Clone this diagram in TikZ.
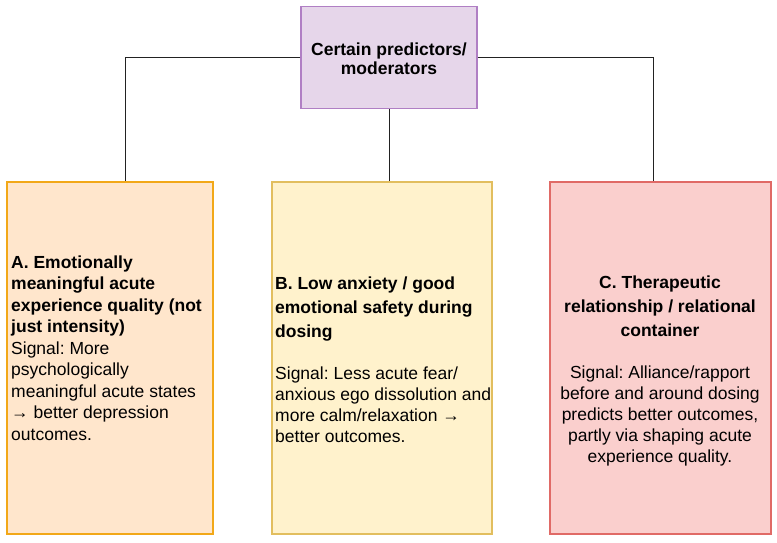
\documentclass[tikz,border=0pt]{standalone}
\usepackage{fontspec}
\setmainfont{Liberation Sans}
\usetikzlibrary{positioning}
\definecolor{topFill}{HTML}{E6D6EA}
\definecolor{topDraw}{HTML}{B07FC4}
\definecolor{aFill}{HTML}{FFE6CC}
\definecolor{aDraw}{HTML}{F2A818}
\definecolor{bFill}{HTML}{FFF2CC}
\definecolor{bDraw}{HTML}{E2BE5E}
\definecolor{cFill}{HTML}{FACFCD}
\definecolor{cDraw}{HTML}{E06A66}
\definecolor{linkGray}{HTML}{222222}
\tikzset{
  predBox/.style={
    draw,
    line width=1.4pt,
    inner sep=0pt,
    minimum width=206pt,
    minimum height=352pt
  },
  predText/.style={
    font=\frenchspacing\fontsize{17.5}{21}\selectfont,
    inner sep=0pt
  },
  linkLine/.style={draw=linkGray, line width=1pt}
}

\begin{document}
\begin{tikzpicture}[x=1pt,y=-1pt]
  \useasboundingbox (0,0) rectangle (777,542);

  % top box
  \node[draw=topDraw, fill=topFill, line width=1.4pt, minimum width=176pt,
        minimum height=102pt, inner sep=0pt] (top) at (389,57.5) {};
  \node[font=\bfseries\fontsize{17.5}{18.5}\selectfont, align=center, inner sep=0pt,
        anchor=north] (topText) at (389,43) {Certain predictors/\\moderators};

  % three boxes
  \node[predBox, draw=aDraw, fill=aFill] (boxA) at (110,358) {};
  \node[predBox, draw=bDraw, fill=bFill, minimum width=220pt] (boxB) at (382,358) {};
  \node[predBox, draw=cDraw, fill=cFill, minimum width=221pt] (boxC) at (660.5,358) {};

  \node[predText, align=left, anchor=north west] (textA) at (11,255.5)
    {\textbf{A. Emotionally}\\[0.5pt]
     \textbf{meaningful acute}\\[0.5pt]
     \textbf{experience quality (not}\\[0.5pt]
     \textbf{just intensity)}\\[0.5pt]
     Signal: More\\[0.5pt]
     psychologically\\[0.5pt]
     meaningful acute states\\[0.5pt]
     → better depression\\[0.5pt]
     outcomes.};
  \node[predText, align=left, anchor=north west] (textB) at (275,276.5)
    {\textbf{B. Low anxiety / good}\\[3pt]
     \textbf{emotional safety during}\\[3pt]
     \textbf{dosing}\\[21.5pt]
     Signal: Less acute fear/\\
     anxious ego dissolution and\\
     more calm/relaxation →\\
     better outcomes.};
  \node[predText, align=center, anchor=north] (textC) at (660,276)
    {\textbf{C. Therapeutic}\\[3pt]
     \textbf{relationship / relational}\\[3pt]
     \textbf{container}\\[21pt]
     Signal: Alliance/rapport\\
     before and around dosing\\
     predicts better outcomes,\\
     partly via shaping acute\\
     experience quality.};

  % connectors
  \draw[linkLine] (top.west) -| (boxA.north -| 125,0);
  \draw[linkLine] (top.east) -| (boxC.north -| 653,0);
  \draw[linkLine] (top.south) -- (boxB.north -| top.south);
\end{tikzpicture}
\end{document}
